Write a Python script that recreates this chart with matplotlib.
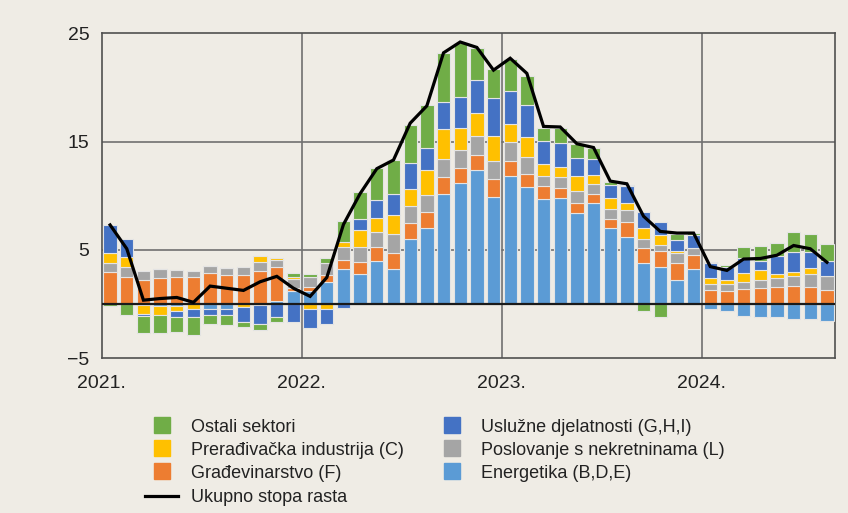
import numpy as np
import matplotlib
matplotlib.use('Agg')
import matplotlib.pyplot as plt
from matplotlib.lines import Line2D

plt.rcParams['font.family'] = ['Liberation Sans', 'DejaVu Sans']

# mjesečni doprinosi, siječanj 2021. - kolovoz 2024.
years = ['2021.', '2022.', '2023.', '2024.']

energetika = [0, 0, -0.1, -0.2, -0.2, 0, -0.45, -0.45, 0, -0.1, 0.25, 1.23,
              1.2, 2.0, 3.2, 2.77, 3.97, 3.2, 5.97, 6.98, 10.15, 11.19, 12.36, 9.9,
              11.81, 10.76, 9.66, 9.75, 8.42, 9.34, 6.98, 6.15, 3.75, 3.38, 2.21, 3.2,
              -0.45, -0.65, -1.11, -1.17, -1.23, -1.38, -1.41, -1.57]
gradjevinarstvo = [2.98, 2.52, 2.21, 2.37, 2.46, 2.46, 2.83, 2.64, 2.71, 3.04, 3.13, 0.22,
                   0.34, 0.68, 0.86, 1.13, 1.32, 1.47, 1.47, 1.54, 1.59, 1.33, 1.39, 1.6,
                   1.41, 1.29, 1.23, 0.92, 0.92, 0.78, 0.86, 1.44, 1.39, 1.51, 1.54, 1.32,
                   1.29, 1.2, 1.35, 1.45, 1.54, 1.69, 1.54, 1.29]
nekretnine = [0.83, 0.92, 0.86, 0.86, 0.68, 0.58, 0.68, 0.65, 0.67, 0.86, 0.68, 0.89,
              0.98, 1.07, 1.17, 1.33, 1.38, 1.79, 1.63, 1.54, 1.61, 1.69, 1.75, 1.69,
              1.7, 1.48, 0.95, 1.07, 1.11, 0.95, 0.92, 1.08, 0.86, 0.55, 0.98, 0.62,
              0.56, 0.65, 0.71, 0.76, 0.83, 0.92, 1.23, 1.29]
preradjivacka = [0.87, 0.87, -0.85, -0.85, -0.45, -0.5, 0, 0, -0.3, 0.53, 0.15, 0.12,
                 -0.5, -0.5, 0.52, 1.6, 1.29, 1.75, 1.56, 2.3, 2.79, 2.09, 2.15, 2.31,
                 1.69, 1.85, 1.08, 0.87, 1.39, 0.83, 1.0, 0.67, 0.98, 0.93, 0.19, 0,
                 0.52, 0.36, 0.77, 0.93, 0.37, 0.31, 0.52, 0]
usluzne = [2.61, 1.69, -0.2, 0, -0.55, -0.7, -0.6, -0.6, -1.4, -1.75, -1.2, -1.63,
           -1.68, -1.35, -0.4, 0.98, 1.63, 1.94, 2.43, 2.09, 2.52, 2.83, 3.08, 3.52,
           3.07, 2.97, 2.15, 2.27, 1.6, 1.45, 1.23, 1.55, 1.48, 1.22, 0.98, 1.23,
           1.38, 1.2, 1.38, 0.86, 1.69, 1.85, 1.54, 1.42]
ostali = [-0.2, -1.0, -1.5, -1.6, -1.4, -1.66, -0.8, -0.85, -0.45, -0.55, -0.5, 0.43,
          0.25, 0.53, 1.91, 2.55, 2.99, 3.13, 3.48, 3.91, 4.52, 4.98, 2.95, 2.67,
          2.98, 2.67, 1.23, 1.42, 1.38, 1.1, 0.28, 0.1, -0.65, -1.17, 0.53, 0.15,
          0.1, 0.2, 1.02, 1.35, 1.23, 1.9, 1.63, 1.5]
ukupno = [7.3, 5.1, 0.35, 0.5, 0.6, 0.15, 1.65, 1.45, 1.25, 2.05, 2.55, 1.45,
          0.7, 2.45, 7.35, 10.2, 12.5, 13.3, 16.7, 18.3, 23.2, 24.2, 23.7, 21.6,
          22.7, 21.3, 16.4, 16.35, 14.8, 14.45, 11.35, 11.1, 8.1, 6.7, 6.55, 6.55,
          3.45, 3.1, 4.15, 4.2, 4.5, 5.4, 5.1, 3.85]

series = [
    ('Energetika (B,D,E)', energetika, '#5B9BD5'),
    ('Građevinarstvo (F)', gradjevinarstvo, '#ED7D31'),
    ('Poslovanje s nekretninama (L)', nekretnine, '#A5A5A5'),
    ('Prerađivačka industrija (C)', preradjivacka, '#FFC000'),
    ('Uslužne djelatnosti (G,H,I)', usluzne, '#4472C4'),
    ('Ostali sektori', ostali, '#70AD47'),
]

bg = '#EFECE5'
fig = plt.figure(figsize=(8.48, 5.13), dpi=100, facecolor=bg)
ax = fig.add_axes([0.12, 0.302, 0.865, 0.633])
ax.set_facecolor(bg)

x = np.arange(len(ukupno))
pos = np.zeros(len(x))
neg = np.zeros(len(x))
for name, vals, col in series:
    v = np.array(vals, dtype=float)
    bottom = np.where(v >= 0, pos, neg)
    ax.bar(x, v, bottom=bottom, width=0.8, color=col, edgecolor='#E4E4E4',
           linewidth=0.8, zorder=3)
    pos = pos + np.clip(v, 0, None)
    neg = neg + np.clip(v, None, 0)

ax.plot(x, ukupno, color='black', lw=2.3, zorder=5, solid_joinstyle='miter')
ax.axhline(0, color='#1a1a1a', lw=1.6, zorder=4)

ax.set_xlim(-0.5, len(x) - 0.5)
ax.set_ylim(-5, 25)
ax.set_yticks([-5, 5, 15, 25])
ax.set_yticklabels(['\u22125', '5', '15', '25'])
year_pos = [-0.5, 11.5, 23.5, 35.5]
ax.set_xticks(year_pos)
ax.set_xticklabels(years)
ax.tick_params(axis='both', length=0, labelsize=14, colors='#222222')
ax.tick_params(axis='y', pad=9)
ax.tick_params(axis='x', pad=12)

for yv in [5, 15]:
    ax.axhline(yv, color='#707070', lw=1.2, zorder=1)
for xv in year_pos[1:]:
    ax.axvline(xv, color='#707070', lw=1.2, zorder=1)
for s in ax.spines.values():
    s.set_color('#505050')
    s.set_linewidth(1.2)

def sq(c):
    return Line2D([], [], marker='s', linestyle='none', markersize=11,
                  markerfacecolor=c, markeredgecolor=c)

cols = {name: col for name, _, col in series}
left_items = ['Ostali sektori', 'Prerađivačka industrija (C)', 'Građevinarstvo (F)']
right_items = ['Uslužne djelatnosti (G,H,I)', 'Poslovanje s nekretninama (L)', 'Energetika (B,D,E)']

common = dict(frameon=False, fontsize=13, handlelength=1.85, handletextpad=0.7,
              labelspacing=0.33, borderpad=0, borderaxespad=0, loc='upper left')
leg1 = fig.legend([sq(cols[n]) for n in left_items], left_items,
                  bbox_to_anchor=(0.171, 0.184), **common)
leg2 = fig.legend([sq(cols[n]) for n in right_items], right_items,
                  bbox_to_anchor=(0.513, 0.184), **common)
leg3 = fig.legend([Line2D([], [], color='black', lw=2.3)], ['Ukupno stopa rasta'],
                  bbox_to_anchor=(0.171, 0.047), **common)
for lg in (leg1, leg2, leg3):
    for t in lg.get_texts():
        t.set_color('#222222')

fig.savefig('out.png', dpi=100, facecolor=bg)
